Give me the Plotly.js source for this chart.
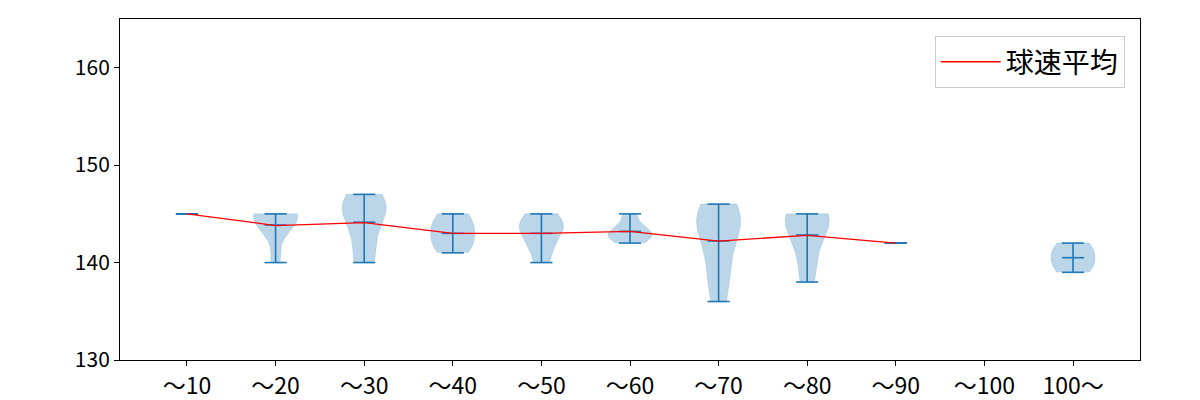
<!DOCTYPE html>
<html>
<head>
<meta charset="utf-8">
<script src="https://cdn.plot.ly/plotly-3.0.1.min.js"></script>
<style>html,body{margin:0;padding:0;background:#fff;}#chart{width:1200px;height:400px;}</style>
</head>
<body>
<div id="chart"></div>
<script>
// Categories (pitch-count buckets)
const categories = ["〜10", "〜20", "〜30", "〜40", "〜50", "〜60", "〜70", "〜80", "〜90", "〜100", "100〜"];

// Pitch speeds (km/h) per bucket
const speeds10  = [145];
const speeds20  = [140, 143, 144, 145, 145, 145, 145];
const speeds30  = [140, 141, 144, 145, 146, 146, 147];
const speeds40  = [141, 142, 143, 144, 145];
const speeds50  = [140, 142, 143, 144, 144, 145];
const speeds60  = [142, 143, 143, 143, 145];
const speeds70  = [136, 138, 140, 142, 144, 144, 145, 145, 146];
const speeds80  = [138, 141, 144, 144, 145, 145];
const speeds90  = [142];
const speeds100 = [129.9];
const speedsOver100 = [139, 140, 141, 142];

// Average speed line (red)
const avgSpeed = [145, 143.8, 144.1, 143, 143, 143.2, 142.2, 142.8, 142, null, null];

const allSpeeds = [speeds10, speeds20, speeds30, speeds40, speeds50, speeds60,
                   speeds70, speeds80, speeds90, speeds100, speedsOver100];

const BODY_HALF = 0.25;   // violin half width (x units)
const CAP_HALF = 0.125;   // cap half width

function mean(a){ return a.reduce((s,v)=>s+v,0)/a.length; }

function violinOutline(samples, pos){
  const n = samples.length;
  if (n < 2) return null;
  const m = mean(samples);
  const v = samples.reduce((s,x)=>s+(x-m)*(x-m),0)/(n-1);
  if (v === 0) return null;
  const factor = Math.pow(n, -0.2);
  const bw2 = v*factor*factor;
  const lo = Math.min(...samples), hi = Math.max(...samples);
  const ys = [], ds = [];
  for (let i=0;i<100;i++){
    const y = lo + (hi-lo)*i/99;
    let d = 0;
    for (const s of samples) d += Math.exp(-(y-s)*(y-s)/(2*bw2));
    ys.push(y); ds.push(d);
  }
  const dmax = Math.max(...ds);
  const xs = [], yy = [];
  for (let i=0;i<100;i++){ xs.push(pos + BODY_HALF*ds[i]/dmax); yy.push(ys[i]); }
  for (let i=99;i>=0;i--){ xs.push(pos - BODY_HALF*ds[i]/dmax); yy.push(ys[i]); }
  return {x: xs, y: yy};
}

const traces = [];
const C0 = "#1f77b4";

allSpeeds.forEach((s, i) => {
  const o = violinOutline(s, i);
  if (o) {
    traces.push({
      type: "scatter", mode: "lines", x: o.x, y: o.y,
      fill: "toself", fillcolor: "rgba(31,119,180,0.3)",
      line: {color: "rgba(31,119,180,0.3)", width: 0.5},
      hoverinfo: "skip", showlegend: false
    });
  }
});

// stats lines: mins, maxes, means, vertical bars
const sx = [], sy = [];
allSpeeds.forEach((s, i) => {
  const lo = Math.min(...s), hi = Math.max(...s), m = mean(s);
  [lo, hi, m].forEach(v => { sx.push(i-CAP_HALF, i+CAP_HALF, null); sy.push(v, v, null); });
  sx.push(i, i, null); sy.push(lo, hi, null);
});
traces.push({
  type: "scatter", mode: "lines", x: sx, y: sy,
  line: {color: C0, width: 1.6}, hoverinfo: "skip", showlegend: false
});

traces.push({
  type: "scatter", mode: "lines",
  x: categories.map((c,i)=>i), y: avgSpeed,
  line: {color: "red", width: 1.3},
  name: "球速平均", showlegend: true
});

const font = "'Noto Sans CJK JP', 'Noto Sans', sans-serif";

const layout = {
  width: 1200, height: 400,
  margin: {l: 120, r: 60, t: 19, b: 40, pad: 0},
  paper_bgcolor: "#fff", plot_bgcolor: "#fff",
  font: {family: font, color: "#000", size: 20},
  showlegend: true,
  legend: {
    x: 0.985, y: 0.95, xanchor: "right", yanchor: "top",
    bgcolor: "rgba(255,255,255,0.8)", bordercolor: "#cccccc", borderwidth: 1,
    font: {family: font, size: 28, color: "#000"},
    itemwidth: 60
  },
  xaxis: {
    range: [-0.756, 10.756],
    tickmode: "array", tickvals: categories.map((c,i)=>i), ticktext: categories,
    showgrid: false, zeroline: false,
    showline: true, linecolor: "#000", linewidth: 1, mirror: true,
    ticks: "outside", ticklen: 5, tickwidth: 1, tickcolor: "#000",
    tickfont: {family: font, size: 23, color: "#000"}
  },
  yaxis: {
    range: [130, 165],
    tickvals: [130, 140, 150, 160],
    showgrid: false, zeroline: false,
    showline: true, linecolor: "#000", linewidth: 1, mirror: true,
    ticks: "outside", ticklen: 5, tickwidth: 1, tickcolor: "#000",
    tickfont: {family: font, size: 21, color: "#000"}
  }
};

Plotly.newPlot("chart", traces, layout, {staticPlot: true, displayModeBar: false});
</script>
</body>
</html>
